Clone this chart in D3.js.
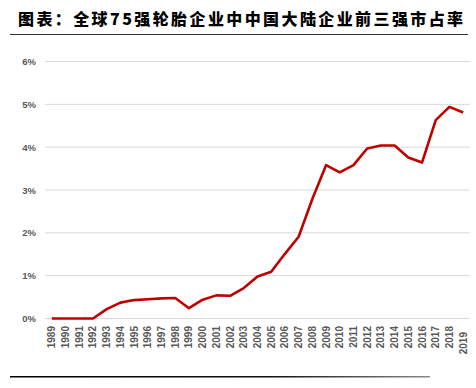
<!DOCTYPE html>
<meta charset="utf-8">
<style>
  body { margin: 0; background: #fff; }
  svg { display: block; }
  .tick text { font-family: Arial, "Liberation Sans", sans-serif; font-weight: bold; fill: #595959; }
</style>
<body>
<div id="chart"></div>
<script src="https://cdn.jsdelivr.net/npm/d3@7"></script>
<script>

// data
var years = ["1989","1990","1991","1992","1993","1994","1995","1996","1997","1998",
             "1999","2000","2001","2002","2003","2004","2005","2006","2007","2008",
             "2009","2010","2011","2012","2013","2014","2015","2016","2017","2018","2019"];
var share = [0, 0, 0, 0, 0.22, 0.37, 0.43, 0.45, 0.47, 0.48,
             0.24, 0.44, 0.54, 0.53, 0.71, 0.98, 1.09, 1.51, 1.91, 2.79,
             3.58, 3.41, 3.58, 3.97, 4.04, 4.04, 3.76, 3.64, 4.63, 4.94, 4.81];
var yTicks = [0, 1, 2, 3, 4, 5, 6];
var title = "图表：全球75强轮胎企业中中国大陆企业前三强市占率";

var W = 476, H = 388;

var svg = d3.select("#chart")
  .append("svg")
    .attr("width", W)
    .attr("height", H);

// title + rule under it
svg.append("text")
  .attr("x", 18)
  .attr("y", 25)
  .style("font-family", "'Noto Sans CJK SC', sans-serif")
  .style("font-weight", "900")
  .style("font-size", "16px")
  .style("letter-spacing", "2.4px")
  .style("fill", "#000")
  .text(title);

svg.append("line")
  .attr("x1", 10).attr("x2", 468)
  .attr("y1", 34.5).attr("y2", 34.5)
  .attr("stroke", "#333")
  .attr("stroke-width", 1);

var x = d3.scaleBand()
  .domain(years)
  .range([45, 470]);

var y = d3.scaleLinear()
  .domain([0, 6])
  .range([318.5, 61.5]);

// gridlines
svg.append("g")
  .selectAll("line")
  .data(yTicks)
  .enter()
  .append("line")
    .attr("x1", 45).attr("x2", 470)
    .attr("y1", function(d) { return y(d); })
    .attr("y2", function(d) { return y(d); })
    .attr("stroke", "#d9d9d9")
    .attr("stroke-width", 1);

// y axis labels
var yAxis = svg.append("g")
  .attr("transform", "translate(36,0)")
  .call(d3.axisLeft(y).tickValues(yTicks).tickSize(0).tickPadding(0)
    .tickFormat(function(d) { return d + "%"; }));
yAxis.select(".domain").remove();
yAxis.selectAll("text").style("font-size", "9.5px");

// x axis labels, rotated
var xAxis = svg.append("g")
  .attr("transform", "translate(0,326)")
  .call(d3.axisBottom(x).tickSize(0).tickPadding(0));
xAxis.select(".domain").remove();
xAxis.selectAll("text")
  .style("font-size", "10px")
  .attr("text-anchor", "end")
  .attr("dominant-baseline", "central")
  .attr("transform", function(d, i) {
    // excel pushes the last label down a little
    return "translate(0," + (i === years.length - 1 ? 6 : 0) + ") rotate(-90)";
  })
  .attr("x", 0)
  .attr("y", 0)
  .attr("dy", null);

// the line
var line = d3.line()
  .x(function(d, i) { return x(years[i]) + x.bandwidth() / 2; })
  .y(function(d) { return y(d); });

svg.append("path")
  .datum(share)
  .attr("d", line)
  .attr("fill", "none")
  .attr("stroke", "#C00000")
  .attr("stroke-width", 2.6)
  .attr("stroke-linejoin", "round");

// bottom rule, fading to grey
var grad = svg.append("defs").append("linearGradient")
  .attr("id", "fade")
  .attr("x1", "0%").attr("x2", "100%");
grad.append("stop").attr("offset", "0%").attr("stop-color", "#000");
grad.append("stop").attr("offset", "62%").attr("stop-color", "#111");
grad.append("stop").attr("offset", "100%").attr("stop-color", "#8a8a8a");

svg.append("rect")
  .attr("x", 10).attr("y", 376)
  .attr("width", 420).attr("height", 1.5)
  .attr("fill", "url(#fade)");

</script>
</body>
